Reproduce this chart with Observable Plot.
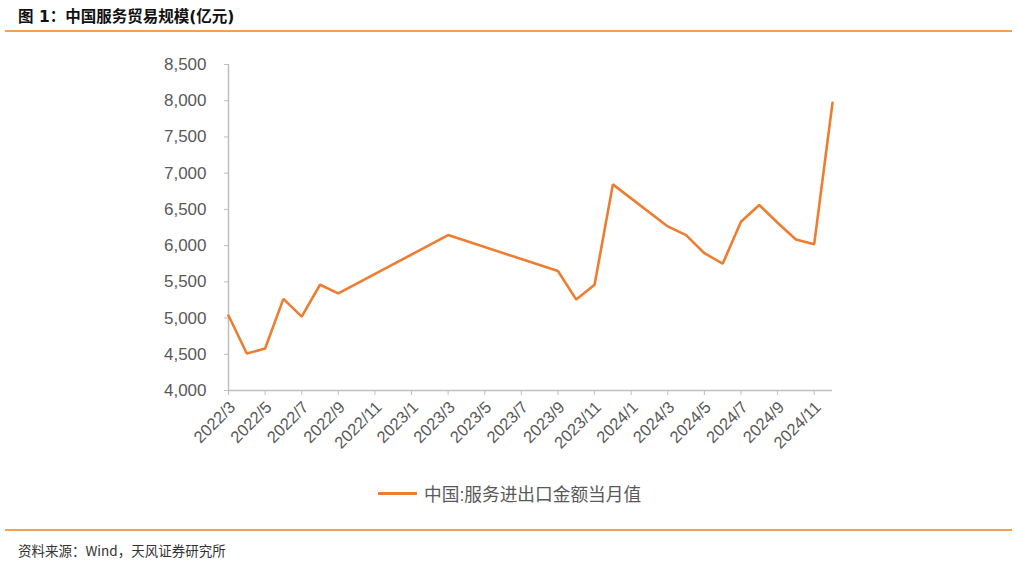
<!DOCTYPE html>
<html><head><meta charset="utf-8">
<script src="https://cdn.jsdelivr.net/npm/d3@7"></script>
<script src="https://cdn.jsdelivr.net/npm/@observablehq/plot@0.6"></script>
<style>
body{margin:0;background:#fff;width:1017px;height:561px;overflow:hidden;position:relative;font-family:"Liberation Sans","Noto Sans CJK SC",sans-serif;}
#title{position:absolute;left:18px;top:4px;font:bold 15.5px "DejaVu Sans","Noto Sans CJK SC",sans-serif;color:#111;}
.rule{position:absolute;left:5px;width:1007px;height:2px;background:#F4A052;}
#chart{position:absolute;left:0;top:0;}
#legend{position:absolute;left:378px;top:480px;font:17.7px "Liberation Sans","Noto Sans CJK SC",sans-serif;color:#595959;display:flex;align-items:center;}
#legend .sw{width:39px;height:3px;background:#ED7D31;margin-right:7px;}
#source{position:absolute;left:18px;top:540px;font:13.5px "Noto Sans CJK SC",sans-serif;color:#333;}
</style></head><body>
<div id="title">图 1：中国服务贸易规模(亿元)</div>
<div class="rule" style="top:30px"></div>
<div id="chart"></div>
<div id="legend"><div class="sw"></div><span>中国:服务进出口金额当月值</span></div>
<div class="rule" style="top:529px"></div>
<div id="source">资料来源：Wind，天风证券研究所</div>
<script>
const months = ["2022/3","2022/4","2022/5","2022/6","2022/7","2022/8","2022/9","2023/3","2023/9","2023/10","2023/11","2023/12","2024/3","2024/4","2024/5","2024/6","2024/7","2024/8","2024/9","2024/10","2024/11","2024/12"];
const values = [5035,4510,4580,5265,5020,5460,5340,6145,5650,5255,5460,6845,6265,6145,5895,5750,6330,6560,6315,6085,6020,7970];
const tickLabels = ["2022/3","2022/5","2022/7","2022/9","2022/11","2023/1","2023/3","2023/5","2023/7","2023/9","2023/11","2024/1","2024/3","2024/5","2024/7","2024/9","2024/11"];
const yTicks = [4000,4500,5000,5500,6000,6500,7000,7500,8000,8500];
const seriesName = "中国:服务进出口金额当月值";

const idx = s => { const [y,m] = s.split("/").map(Number); return (y-2022)*12 + m - 3; };
const data = months.map((m,i) => ({x: idx(m), y: values[i], series: seriesName}));
const tickPos = tickLabels.map(idx);
const labelOf = new Map(tickLabels.map(t => [idx(t), t]));

const plot = Plot.plot({
  width: 1017, height: 470,
  marginLeft: 228, marginRight: 185, marginTop: 64, marginBottom: 80,
  style: {fontFamily: '"Liberation Sans", Arial, sans-serif', color: "#595959", background: "transparent"},
  x: {domain: [0, 33], ticks: tickPos, tickFormat: d => labelOf.get(d), label: null},
  y: {domain: [4000, 8500], ticks: yTicks, tickFormat: d3.format(","), label: null},
  marks: [
    Plot.axisY({ticks: yTicks, tickFormat: d3.format(","), tickSize: 4, tickPadding: 18, fontSize: 17, stroke: "#BFBFBF", fill: "#595959", label: null}),
    Plot.axisX({ticks: tickPos, tickSize: 5, stroke: "#BFBFBF", text: null, label: null}),
    Plot.axisX({ticks: tickPos, tickFormat: d => labelOf.get(d), tickSize: 0, tickPadding: 3, tickRotate: -45, fontSize: 16.5, fill: "#595959", dx: 4, dy: 11, label: null}),
    Plot.ruleX([0], {y1: 4000, y2: 8500, stroke: "#BFBFBF", strokeWidth: 1.5}),
    Plot.ruleY([4000], {x1: 0, x2: 33, stroke: "#BFBFBF", strokeWidth: 1.5}),
    Plot.line(data, {x: "x", y: "y", stroke: "#ED7D31", strokeWidth: 2.6, strokeLinejoin: "miter"})
  ]
});
document.getElementById("chart").appendChild(plot);
</script>
</body></html>
